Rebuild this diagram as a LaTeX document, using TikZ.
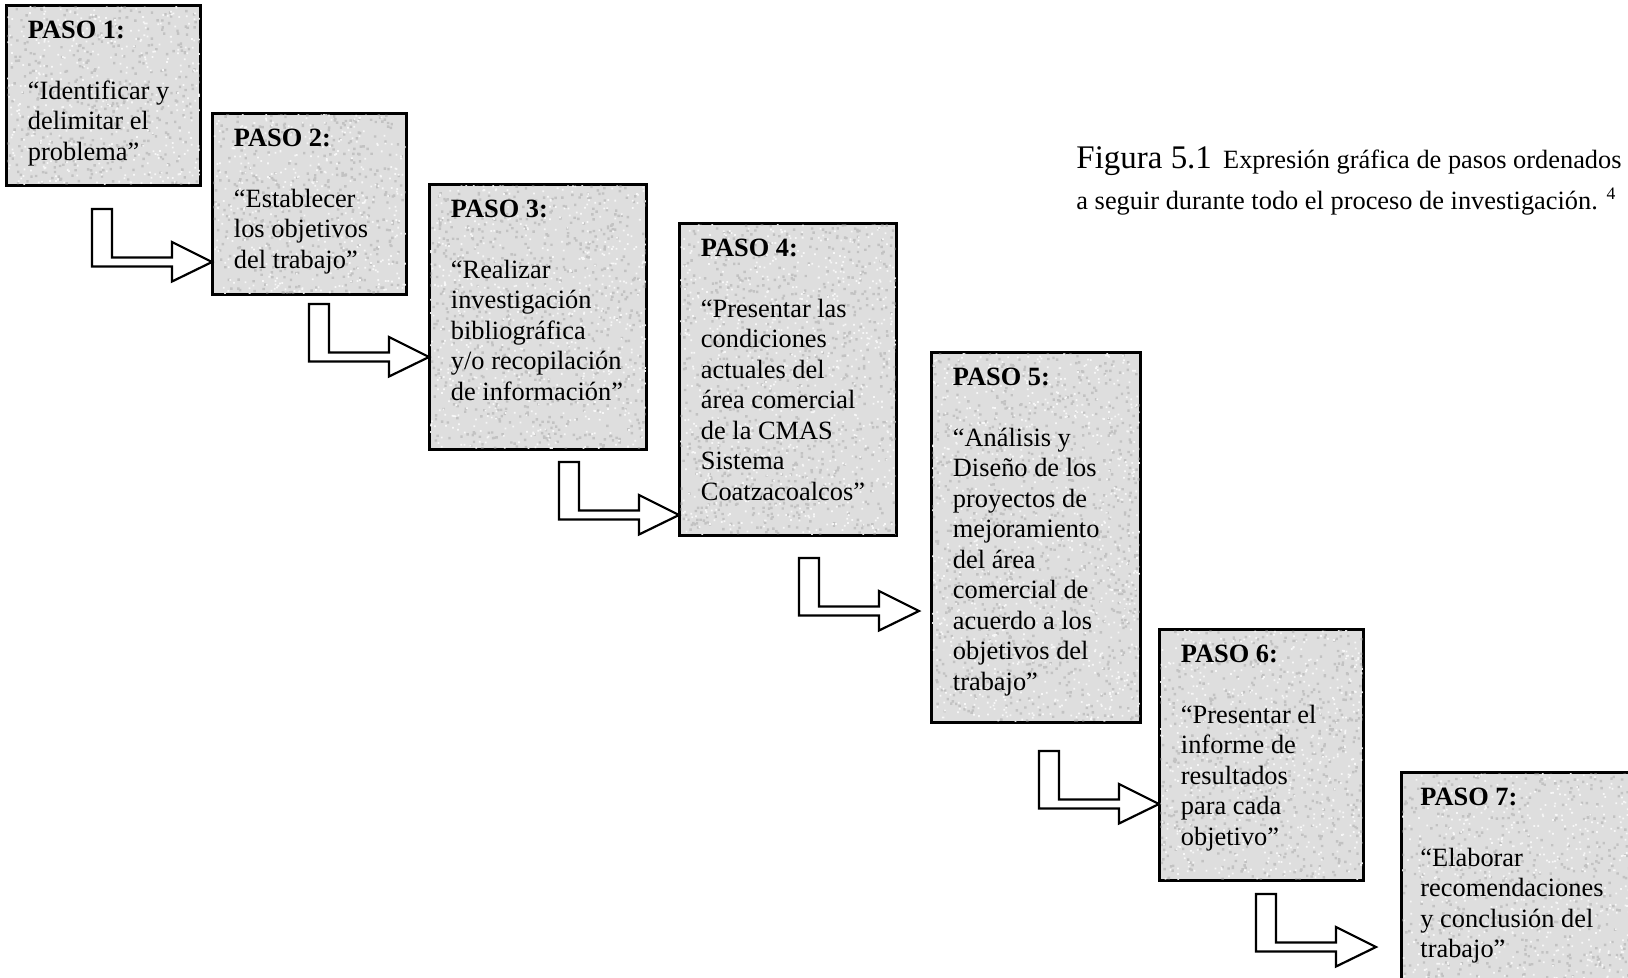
\documentclass[tikz,border=0pt]{standalone}
\usepackage{fontspec}
\setmainfont{Liberation Serif}
\usetikzlibrary{calc,fit}

\definecolor{granite}{RGB}{222,222,222}
\definecolor{speckdark}{RGB}{160,160,160}
\definecolor{specklight}{RGB}{250,250,250}

\tikzset{
  stepbox/.style={draw=black, line width=0.9pt, fill=granite, inner sep=0pt, rectangle},
  steptext/.style={anchor=base west, inner sep=0pt, font=\fontsize{12}{13.9}\selectfont},
  captext/.style={anchor=base west, inner sep=0pt, font=\fontsize{12}{14}\selectfont},
  blockarrow/.style={draw=black, line width=1pt, fill=white, line join=miter},
}

% granite speckles inside a box node: #1 node name, #2 number of specks
\newcommand\granite[2]{%
  \begin{scope}
    \clip (#1.south west) rectangle (#1.north east);
    \path (#1.south west); \pgfgetlastxy{\gxa}{\gya}
    \path (#1.north east); \pgfgetlastxy{\gxb}{\gyb}
    \fill[speckdark, opacity=.45] foreach \k in {1,...,#2}{
      ({\gxa+rnd*(\gxb-\gxa)}, {\gya+rnd*(\gyb-\gya)}) rectangle ++(1.1pt,1.1pt)};
    \fill[specklight, opacity=.9] foreach \k in {1,...,#2}{
      ({\gxa+rnd*(\gxb-\gxa)}, {\gya+rnd*(\gyb-\gya)}) rectangle ++(0.8pt,0.8pt)};
  \end{scope}
  \draw[line width=0.9pt] (#1.south west) rectangle (#1.north east);
}

% text block of a step, first baseline at the anchor
\newcommand\stepcontent[1]{\parbox[t]{170pt}{\raggedright #1}}

% hollow L-shaped arrow ending at the named tip coordinate
\newcommand\blockarr[1]{%
  \draw[blockarrow] ($(#1)+(-120,-53)$) -- ++(20,0) -- ++(0,48.5) -- ++(60,0)
    -- ++(0,-15.5) -- (#1) -- ++(-40,19.5) -- ++(0,-15) -- ++(-80,0) -- cycle;
}

\begin{document}
\begin{tikzpicture}[x=0.455pt, y=-0.455pt]
  \useasboundingbox (0,0) rectangle (1628,978);
  \clip (0,0) rectangle (1628,978);
  \pgfmathsetseed{7}

  % step boxes
  \node[stepbox, fit={(7,6) (200,185)}] (p1) {};
  \granite{p1}{430}
  \node[stepbox, fit={(213,114) (406,294)}] (p2) {};
  \granite{p2}{430}
  \node[stepbox, fit={(430,185) (646,449)}] (p3) {};
  \granite{p3}{710}
  \node[stepbox, fit={(680,224) (896,535)}] (p4) {};
  \granite{p4}{840}
  \node[stepbox, fit={(932,353) (1140,722)}] (p5) {};
  \granite{p5}{960}
  \node[stepbox, fit={(1160,630) (1363,880)}] (p6) {};
  \granite{p6}{630}
  \node[stepbox, fit={(1402,773) (1650,1000)}] (p7) {};
  \granite{p7}{620}

  % step texts
  \node[steptext] (s1) at ($(p1.north west)+(21.5,33)$) {\stepcontent{%
    \textbf{PASO 1:}\\[\baselineskip]
    “Identificar y\\ delimitar el\\ problema”}};
  \node[steptext] (s2) at ($(p2.north west)+(21.5,33)$) {\stepcontent{%
    \textbf{PASO 2:}\\[\baselineskip]
    “Establecer\\ los objetivos\\ del trabajo”}};
  \node[steptext] (s3) at ($(p3.north west)+(21.5,33)$) {\stepcontent{%
    \textbf{PASO 3:}\\[\baselineskip]
    “Realizar\\ investigación\\ bibliográfica\\ y/o recopilación\\ de información”}};
  \node[steptext] (s4) at ($(p4.north west)+(21.5,33)$) {\stepcontent{%
    \textbf{PASO 4:}\\[\baselineskip]
    “Presentar las\\ condiciones\\ actuales del\\ área comercial\\ de la CMAS\\ Sistema\\ Coatzacoalcos”}};
  \node[steptext] (s5) at ($(p5.north west)+(21.5,33)$) {\stepcontent{%
    \textbf{PASO 5:}\\[\baselineskip]
    “Análisis y\\ Diseño de los\\ proyectos de\\ mejoramiento\\ del área\\ comercial de\\ acuerdo a los\\ objetivos del\\ trabajo”}};
  \node[steptext] (s6) at ($(p6.north west)+(21.5,33)$) {\stepcontent{%
    \textbf{PASO 6:}\\[\baselineskip]
    “Presentar el\\ informe de\\ resultados\\ para cada\\ objetivo”}};
  \node[steptext] (s7) at ($(p7.north west)+(19,33)$) {\stepcontent{%
    \textbf{PASO 7:}\\[\baselineskip]
    “Elaborar\\ recomendaciones\\ y conclusión del\\ trabajo”}};

  % arrow tips
  \coordinate (t1) at (p2.west |- 0,262);
  \coordinate (t2) at (p3.west |- 0,357);
  \coordinate (t3) at (p4.west |- 0,515);
  \coordinate (t4) at (919,611);
  \coordinate (t5) at (p6.west |- 0,804);
  \coordinate (t6) at (1376,947);

  % connectors between steps
  \blockarr{t1}
  \blockarr{t2}
  \blockarr{t3}
  \blockarr{t4}
  \blockarr{t5}
  \blockarr{t6}

  % caption
  \node[captext, font=\fontsize{15}{18}\selectfont] (fig) at (1076,168) {Figura 5.1};
  \node[captext, anchor=base east] (cap1) at (1622,168) {Expresión gráfica de pasos ordenados};
  \node[captext] (cap2) at (1076,209) {a seguir durante todo el proceso de investigación. \textsuperscript{4}};
\end{tikzpicture}
\end{document}
